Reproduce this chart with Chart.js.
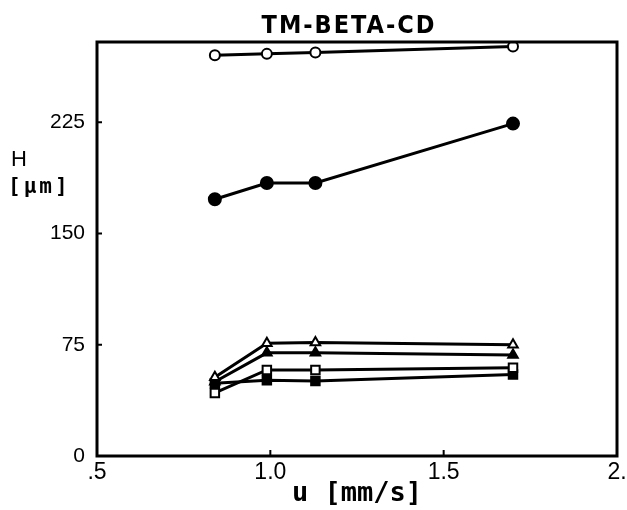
<!DOCTYPE html>
<html>
<head>
<meta charset="utf-8">
<script src="https://cdn.jsdelivr.net/npm/chart.js@4"></script>
<style>
  html, body { margin: 0; padding: 0; background: #fff; }
  #wrap { width: 627px; height: 510px; }
</style>
</head>
<body>
<div id="wrap"><canvas id="chart" width="627" height="510"></canvas></div>
<script>
// u [mm/s]
const velocities = [0.84, 0.99, 1.13, 1.70];

// H [um] for each curve
const openCircles = [270, 271, 272, 276];
const filledCircles = [173, 184, 184, 224];
const openTriangles = [53, 76, 76.5, 75];
const filledTriangles = [50, 69.5, 69.5, 68];
const openSquares = [42.5, 58, 58, 59.5];
const filledSquares = [49, 51, 50.5, 55];

const xTickValues = [0.5, 1.0, 1.5, 2.0];
const xTickLabels = [".5", "1.0", "1.5", "2."];
const yTickValues = [0, 75, 150, 225];

const toPoints = (ys) => velocities.map((x, i) => ({ x: x, y: ys[i] }));

const series = (data, style, filled, radius) => ({
  data: toPoints(data),
  borderColor: "#000",
  borderWidth: 3,
  pointStyle: style,
  pointRadius: radius,
  pointBorderWidth: 2,
  pointBorderColor: "#000",
  pointBackgroundColor: filled ? "#000" : "#fff",
  showLine: true,
  tension: 0,
});

const frame = {
  id: "frame",
  afterDatasetsDraw(chart) {
    const { ctx, chartArea: a, scales } = chart;
    ctx.save();
    ctx.strokeStyle = "#000";
    ctx.lineWidth = 3;
    ctx.strokeRect(a.left, a.top, a.right - a.left, a.bottom - a.top);

    // small inward ticks
    ctx.lineWidth = 2;
    ctx.beginPath();
    [75, 150, 225].forEach((v) => {
      const y = scales.y.getPixelForValue(v);
      ctx.moveTo(a.left, y);
      ctx.lineTo(a.left + 5, y);
    });
    [1.0, 1.5].forEach((v) => {
      const x = scales.x.getPixelForValue(v);
      ctx.moveTo(x, a.bottom);
      ctx.lineTo(x, a.bottom - 6);
    });
    ctx.stroke();

    // title
    ctx.fillStyle = "#000";
    ctx.textAlign = "center";
    ctx.textBaseline = "alphabetic";
    ctx.letterSpacing = "2px";
    ctx.font = "bold 25px 'DejaVu Sans Condensed', 'DejaVu Sans'";
    ctx.fillText("TM-BETA-CD", 349, 33);

    // y axis title, written flat at the left
    ctx.textAlign = "left";
    ctx.letterSpacing = "0px";
    ctx.font = "22px 'Liberation Sans'";
    ctx.fillText("H", 11, 166);
    ctx.letterSpacing = "3px";
    ctx.font = "bold 21px 'DejaVu Sans Mono'";
    ctx.fillText("[\u00b5m]", 8, 193);
    ctx.restore();
  },
};

new Chart(document.getElementById("chart"), {
  type: "scatter",
  data: {
    datasets: [
      series(openCircles, "circle", false, 5),
      series(filledCircles, "circle", true, 6),
      series(openTriangles, "triangle", false, 5.5),
      series(filledTriangles, "triangle", true, 5.5),
      series(openSquares, "rect", false, 6),
      series(filledSquares, "rect", true, 6),
    ],
  },
  options: {
    responsive: false,
    animation: false,
    layout: { padding: { top: 42, right: 10, left: 0, bottom: 0 } },
    plugins: {
      legend: { display: false },
      title: { display: false },
      tooltip: { enabled: false },
    },
    scales: {
      x: {
        type: "linear",
        min: 0.5,
        max: 2.0,
        grid: { display: false, drawTicks: false },
        border: { display: false },
        afterFit: (scale) => {
          scale.height = 54;
          scale.paddingLeft = 0;
          scale.paddingRight = 0;
        },
        afterBuildTicks: (scale) => { scale.ticks = xTickValues.map((v) => ({ value: v })); },
        ticks: {
          padding: 3,
          maxRotation: 0,
          color: "#000",
          font: { family: "Liberation Sans", size: 23 },
          callback: (value) => xTickLabels[xTickValues.indexOf(value)],
        },
        title: {
          display: true,
          text: "u [mm/s]",
          color: "#000",
          padding: { top: 0, bottom: 0 },
          font: { family: "DejaVu Sans Mono", size: 27, weight: "bold" },
        },
      },
      y: {
        min: 0,
        max: 279,
        grid: { display: false, drawTicks: false },
        border: { display: false },
        afterFit: (scale) => { scale.width = 97; },
        afterBuildTicks: (scale) => { scale.ticks = yTickValues.map((v) => ({ value: v })); },
        ticks: {
          padding: 12,
          color: "#000",
          font: { family: "Liberation Sans", size: 21 },
        },
      },
    },
  },
  plugins: [frame],
});
</script>
</body>
</html>
